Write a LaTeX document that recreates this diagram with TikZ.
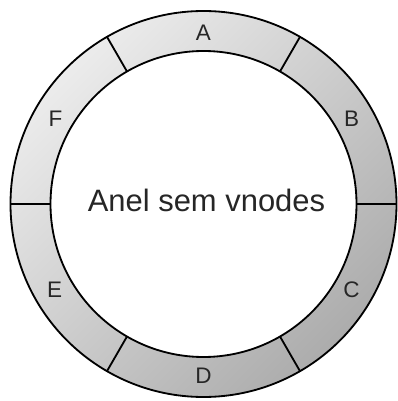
\documentclass[tikz,border=0pt]{standalone}
\usepackage{fontspec}
\setmainfont{Liberation Sans}
\usetikzlibrary{positioning}

\begin{document}
\begin{tikzpicture}[x=0.025cm, y=0.025cm,
    ringline/.style={draw=black, line width=1.3pt},
    seglabel/.style={font=\fontsize{16}{18}\selectfont, text=black!85, inner sep=0pt}]
    \useasboundingbox (-203.5,-197) rectangle (194.5,204);

    % Draw ring
    \shade[top color=gray!15, bottom color=gray!65, shading angle=45, even odd rule]
        (0,0) circle (193) (0,0) circle (153);
    \draw[ringline] (0,0) circle (193);
    \draw[ringline] (0,0) circle (153);

    % Draw dividers
    \draw[ringline] (0:153) -- (0:193);
    \draw[ringline] (60:153) -- (60:193);
    \draw[ringline] (120:153) -- (120:193);
    \draw[ringline] (180:153) -- (180:193);
    \draw[ringline] (240:153) -- (240:193);
    \draw[ringline] (300:153) -- (300:193);

    % Labels
    \node[seglabel] (A) at (90:171) {A};
    \node[seglabel] (B) at (30:171) {B};
    \node[seglabel] (C) at (-30:171) {C};
    \node[seglabel] (D) at (-90:172) {D};
    \node[seglabel] (E) at (210:172) {E};
    \node[seglabel] (F) at (150:171) {F};
    \node[font=\fontsize{22}{26}\selectfont, text=black!85] (ring) at (3,4) {Anel sem vnodes};
\end{tikzpicture}
\end{document}
